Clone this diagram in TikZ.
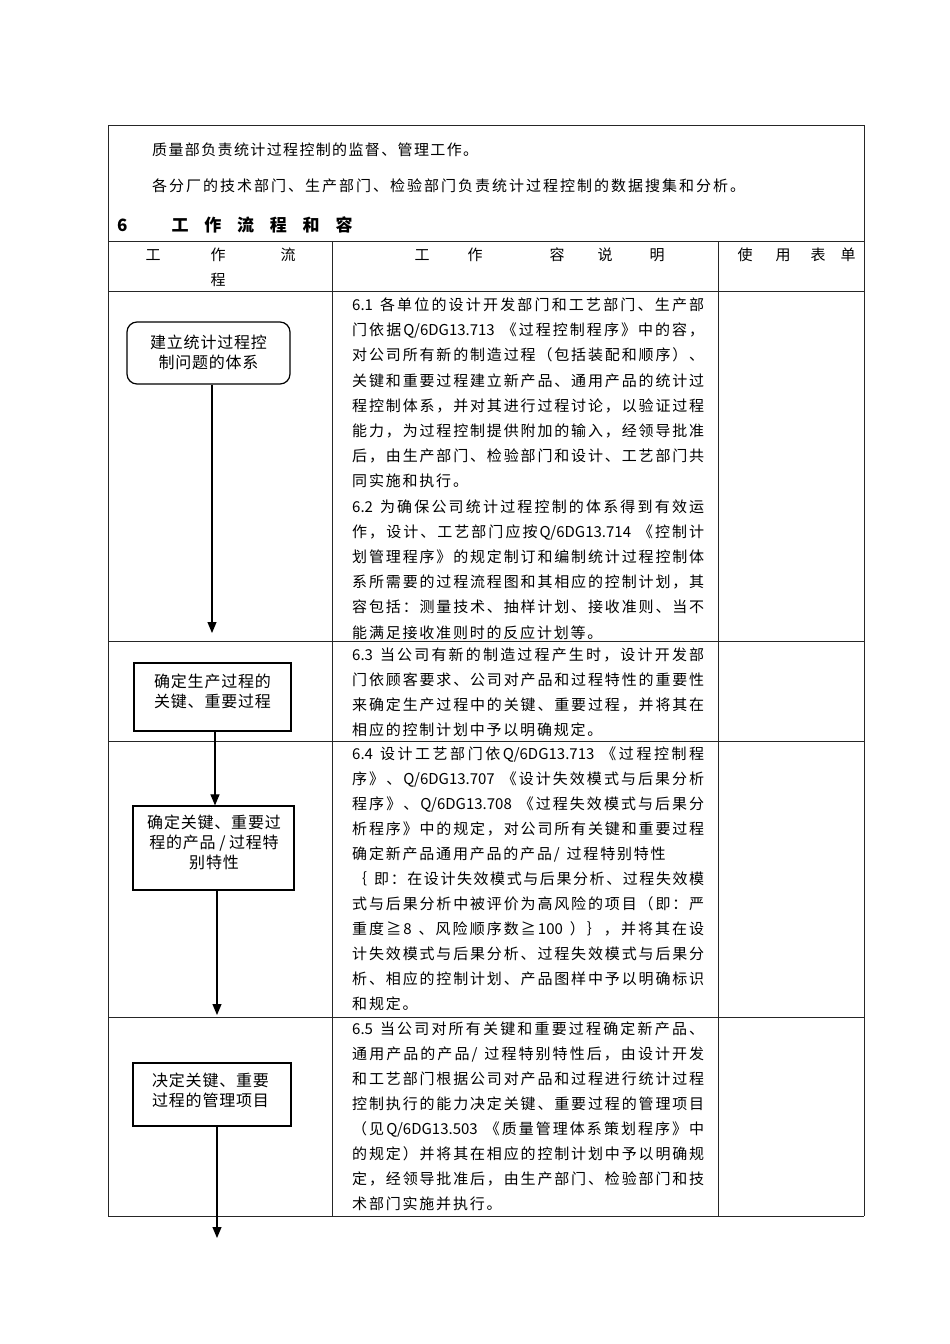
\documentclass[tikz,border=0pt]{standalone}
\usepackage{fontspec}
\setmainfont{Noto Sans CJK SC}
\usetikzlibrary{arrows.meta}
\newskip\cjkskip \cjkskip=1.8pt\relax
\makeatletter
\count@="3000
\loop\ifnum\count@<"3040 \XeTeXcharclass\count@=1 \advance\count@ by 1 \repeat
\count@="4E00
\loop\ifnum\count@<"A000 \XeTeXcharclass\count@=1 \advance\count@ by 1 \repeat
\count@="FF00
\loop\ifnum\count@<"FF60 \XeTeXcharclass\count@=1 \advance\count@ by 1 \repeat
\XeTeXcharclass"2267=1
\makeatother
\XeTeXinterchartoks 1 1 = {\hskip\cjkskip}
\XeTeXinterchartoks 0 1 = {\hskip\cjkskip}
\XeTeXinterchartoks 1 0 = {\hskip\cjkskip}
\XeTeXinterchartokenstate=1
\newcommand\bodyfont{\fontsize{15}{15}\selectfont\cjkskip=1.8pt\spaceskip=7pt\relax}
\newcommand\boxfont{\fontsize{16}{20}\selectfont\cjkskip=0.8pt\relax}
\newcommand\headfont{\fontsize{15}{15}\selectfont\cjkskip=0pt\relax}
\newcommand\secfont{\fontsize{17}{17}\selectfont\bfseries\cjkskip=0pt\relax}
\newcommand\jl[1]{{\cjkskip=1.8pt plus 1fil minus 1.5pt\relax\hbox to 352pt{#1}}}
\newcommand\jw[2]{{\cjkskip=1.4pt plus 1fil minus 1.5pt\relax\hbox to #1{#2}}}
\begin{document}
\begin{tikzpicture}[x=1pt,y=-1pt,
  tline/.style={line width=0.9pt,black!85},
  fbox/.style={draw, line width=1.2pt, inner sep=0pt},
  btxt/.style={align=center, inner sep=0pt, font=\boxfont},
  txt/.style={anchor=base west, inner sep=0pt, font=\bodyfont},
  hd/.style={anchor=base west, inner sep=0pt, font=\headfont},
  arr/.style={line width=1.1pt, -{Triangle[width=9pt,length=11pt]}}]
\useasboundingbox (0,0) rectangle (950,1344);
% table frame
\draw[tline] (108,125) -- (864,125);
\draw[tline] (108,125) -- (108,1216);
\draw[tline] (864,125) -- (864,1216);
\draw[tline] (108,241) -- (864,241);
\draw[tline] (108,291) -- (864,291);
\draw[tline] (108,641) -- (864,641);
\draw[tline] (108,741) -- (864,741);
\draw[tline] (108,1017) -- (864,1017);
\draw[tline] (108,1216) -- (864,1216);
\draw[tline] (332,241) -- (332,1216);
\draw[tline] (718,241) -- (718,1216);
% intro text
\node[txt] (i1) at (152,155.5) {\jw{326pt}{质量部负责统计过程控制的监督、管理工作。}};
\node[txt] (i2) at (152,191.5) {\jw{593pt}{各分厂的技术部门、生产部门、检验部门负责统计过程控制的数据搜集和分析。}};
\node[hd, font=\secfont] (sec) at (117,231.5) {6\hspace{44pt}工\hspace{15.8pt}作\hspace{15.8pt}流\hspace{15.8pt}程\hspace{15.8pt}和\hspace{15.8pt}容};
% header row
\node[hd] (h1) at (145.5,260.5) {工\hspace{50pt}作\hspace{55pt}流};
\node[hd] (h1b) at (210.5,285.5) {程};
\node[hd] (h2) at (414.5,260.5) {工\hspace{38pt}作\hspace{67pt}容\hspace{33pt}说\hspace{37pt}明};
\node[hd] (h3) at (737.5,260.5) {使\hspace{23pt}用\hspace{20pt}表\hspace{15pt}单};
% row 1 text
\foreach \t [count=\i] in {
 {\jl{6.1 各单位的设计开发部门和工艺部门、生产部}},
 {\jl{门依据Q/6DG13.713 《过程控制程序》中的容，}},
 {\jl{对公司所有新的制造过程（包括装配和顺序）、}},
 {\jl{关键和重要过程建立新产品、通用产品的统计过}},
 {\jl{程控制体系，并对其进行过程讨论，以验证过程}},
 {\jl{能力，为过程控制提供附加的输入，经领导批准}},
 {\jl{后，由生产部门、检验部门和设计、工艺部门共}},
 {同实施和执行。},
 {\jl{6.2 为确保公司统计过程控制的体系得到有效运}},
 {\jl{作，设计、工艺部门应按Q/6DG13.714 《控制计}},
 {\jl{划管理程序》的规定制订和编制统计过程控制体}},
 {\jl{系所需要的过程流程图和其相应的控制计划，其}},
 {\jl{容包括：测量技术、抽样计划、接收准则、当不}},
 {能满足接收准则时的反应计划等。}}
 {\node[txt] (ra\i) at (352,{310.5+25.2*(\i-1)}) {\t};}
% row 2 text
\foreach \t [count=\i] in {
 {\jl{6.3 当公司有新的制造过程产生时，设计开发部}},
 {\jl{门依顾客要求、公司对产品和过程特性的重要性}},
 {\jl{来确定生产过程中的关键、重要过程，并将其在}},
 {相应的控制计划中予以明确规定。}}
 {\node[txt] (rb\i) at (352,{660.5+25*(\i-1)}) {\t};}
% row 3 text
\foreach \t [count=\i] in {
 {\jl{6.4 设计工艺部门依Q/6DG13.713 《过程控制程}},
 {\jl{序》、Q/6DG13.707 《设计失效模式与后果分析}},
 {\jl{程序》、Q/6DG13.708 《过程失效模式与后果分}},
 {\jl{析程序》中的规定，对公司所有关键和重要过程}},
 {确定新产品通用产品的产品/ 过程特别特性},
 {\jl{｛ 即：在设计失效模式与后果分析、过程失效模}},
 {\jl{式与后果分析中被评价为高风险的项目（即：严}},
 {\jl{重度≧8 、风险顺序数≧100 ）｝，并将其在设}},
 {\jl{计失效模式与后果分析、过程失效模式与后果分}},
 {\jl{析、相应的控制计划、产品图样中予以明确标识}},
 {和规定。}}
 {\node[txt] (rc\i) at (352,{759.5+25*(\i-1)}) {\t};}
% row 4 text
\foreach \t [count=\i] in {
 {\jl{6.5 当公司对所有关键和重要过程确定新产品、}},
 {\jl{通用产品的产品/ 过程特别特性后，由设计开发}},
 {\jl{和工艺部门根据公司对产品和过程进行统计过程}},
 {\jl{控制执行的能力决定关键、重要过程的管理项目}},
 {\jl{（见Q/6DG13.503 《质量管理体系策划程序》中}},
 {\jl{的规定）并将其在相应的控制计划中予以明确规}},
 {\jl{定，经领导批准后，由生产部门、检验部门和技}},
 {术部门实施并执行。}}
 {\node[txt] (rd\i) at (352,{1034.5+25*(\i-1)}) {\t};}
% flow boxes
\node[fbox, rounded corners=10pt, minimum width=163pt, minimum height=62pt] (b1) at (208.5,353) {};
\node[btxt] (b1t) at (208.5,352) {建立统计过程控\\制问题的体系};
\node[fbox, minimum width=157pt, minimum height=68pt] (b2) at (212.5,697) {};
\node[btxt] (b2t) at (212.5,691) {确定生产过程的\\关键、重要过程};
\node[fbox, minimum width=161pt, minimum height=84pt] (b3) at (213.5,848) {};
\node[btxt] (b3t) at (214,842) {确定关键、重要过\\程的产品 / 过程特\\别特性};
\node[fbox, minimum width=158pt, minimum height=63pt] (b4) at (212,1094.5) {};
\node[btxt] (b4t) at (210.5,1090.5) {决定关键、重要\\过程的管理项目};
% arrows
\coordinate (a1) at (212,633);
\coordinate (a2) at (215,806);
\coordinate (a3) at (217,1015);
\coordinate (a4) at (217,1238);
\draw[arr] (b1.south -| a1) -- (a1);
\draw[arr] (b2.south -| a2) -- (b3.north -| a2);
\draw[arr] (b3.south -| a3) -- (a3);
\draw[arr] (b4.south -| a4) -- (a4);
\end{tikzpicture}
\end{document}
